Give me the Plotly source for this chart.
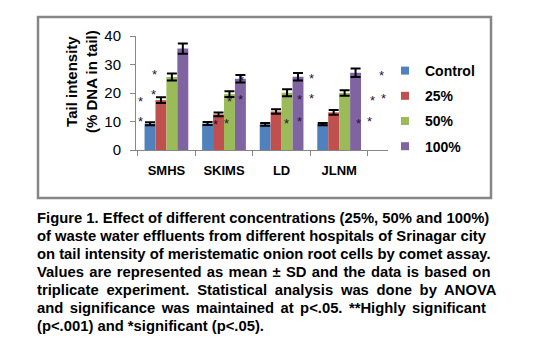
import plotly.graph_objects as go

# ---- data ----
hospitals = ["SMHS", "SKIMS", "LD", "JLNM"]
series_names = ["Control", "25%", "50%", "100%"]
control = [9.2, 9.3, 9.0, 9.1]
conc25 = [17.5, 12.5, 13.5, 13.2]
conc50 = [25.6, 19.6, 20.1, 20.0]
conc100 = [35.6, 25.0, 25.7, 27.1]
sd_control = [0.5, 0.5, 0.5, 0.4]
sd_25 = [1.0, 0.7, 0.8, 0.8]
sd_50 = [1.2, 1.0, 1.2, 1.0]
sd_100 = [1.8, 1.3, 1.3, 1.5]
# significance asterisks (category position, value)
star_x = [-0.45, -0.45, -0.21, -0.23, 0.85, 1.04, 1.10, 1.29, 1.31,
          2.09, 2.31, 2.31, 2.52, 2.52, 3.33, 3.52, 3.58, 3.74, 3.77]
star_y = [18.1, 10.9, 27.5, 20.7, 9.9, 10.5, 17.9, 18.7, 25.6,
          10.3, 10.9, 18.6, 26.1, 19.0, 10.5, 10.9, 18.4, 27.1, 19.0]
y_ticks = [0, 10, 20, 30, 40]
caption_lines = [
    "Figure 1. Effect of different concentrations (25%, 50% and 100%)",
    "of waste water effluents from different hospitals of Srinagar city",
    "on tail intensity of meristematic onion root cells by comet assay.",
    "Values are represented as mean \u00b1 SD and the data is based on",
    "triplicate experiment. Statistical analysis was done by ANOVA",
    "and significance was maintained at p<.05. **Highly significant",
    "(p<.001) and *significant (p<.05).",
]

colors = ["#4F81BD", "#C0504D", "#9BBB59", "#8064A2"]
values = [control, conc25, conc50, conc100]
sds = [sd_control, sd_25, sd_50, sd_100]
FONT = "Arial, Liberation Sans"
# extra word spacing (px) to mimic the justified caption
caption_word_spacing = [0, 0, 0, 1.2, 3.6, 2.3, 0]

W, H = 534, 358
L, R, T, B = 136, 388, 36, 150  # plot area pixels

def px(x):
    return (x - L) / (R - L)

def py(y):
    return (B - y) / (B - T)

fig = go.Figure()
for name, vals, err, c in zip(series_names, values, sds, colors):
    fig.add_trace(go.Bar(
        x=hospitals, y=vals, name=name, marker_color=c, marker_line_width=0,
        error_y=dict(type="data", array=err, color="black", thickness=2, width=5),
        showlegend=False,
    ))
for name, c in zip(series_names, colors):
    fig.add_trace(go.Scatter(
        x=[None], y=[None], mode="markers", name="<b>" + name + "</b>", legendgroup=name,
        marker=dict(symbol="square", size=8, color=c),
    ))

annotations = []
for sx, sy in zip(star_x, star_y):
    annotations.append(dict(x=sx, y=sy, xref="x", yref="y", text="*", showarrow=False,
                            font=dict(family=FONT, size=13, color="#2a1038"),
                            yshift=-3))
annotations.append(dict(x=px(81), y=py(82), xref="paper", yref="paper",
                        text="<b>Tail intensity</b><br><b>(% DNA in tail)</b>", textangle=-90,
                        showarrow=False, font=dict(family=FONT, size=15, color="black"),
                        xanchor="center", yanchor="middle"))
for i, (line, ws) in enumerate(zip(caption_lines, caption_word_spacing)):
    text = "<b>" + line + "</b>"
    if ws:
        text = '<span style="word-spacing:%.1fpx">' % ws + text + "</span>"
    annotations.append(dict(x=px(35), y=py(218 + 18 * i), xref="paper", yref="paper",
                            text=text, showarrow=False, xanchor="left",
                            yanchor="middle", align="left",
                            font=dict(family=FONT, size=14.8, color="black")))

fig.update_layout(
    width=W, height=H,
    margin=dict(l=L, r=W - R, t=T, b=H - B, pad=0),
    paper_bgcolor="white", plot_bgcolor="white",
    barmode="group", bargap=0.24, bargroupgap=0,
    font=dict(family=FONT, color="black"),
    xaxis=dict(showline=True, linecolor="#868686", linewidth=1, ticks="outside",
               tickson="boundaries", ticklen=5, tickcolor="#868686",
               tickfont=dict(size=13, family=FONT), ticklabelstandoff=8,
               tickprefix="<b>", ticksuffix="</b>"),
    yaxis=dict(range=[0, 40], tickvals=y_ticks, showline=True, linecolor="#868686",
               linewidth=1, ticks="outside", ticklen=5, tickcolor="#868686",
               showgrid=False, zeroline=False, tickfont=dict(size=15),
               ticklabelstandoff=6),
    legend=dict(x=px(385), y=py(55), xanchor="left", yanchor="top",
                font=dict(size=14, family=FONT),
                tracegroupgap=4, itemwidth=30, bgcolor="rgba(0,0,0,0)"),
    annotations=annotations,
    shapes=[dict(type="rect", xref="paper", yref="paper",
                 x0=px(38), x1=px(491), y0=py(198), y1=py(17),
                 line=dict(color="#868686", width=2.5), layer="below")],
)
fig.write_html("out.html", config={"displayModeBar": False},
               post_script="document.body.style.margin='0';")
